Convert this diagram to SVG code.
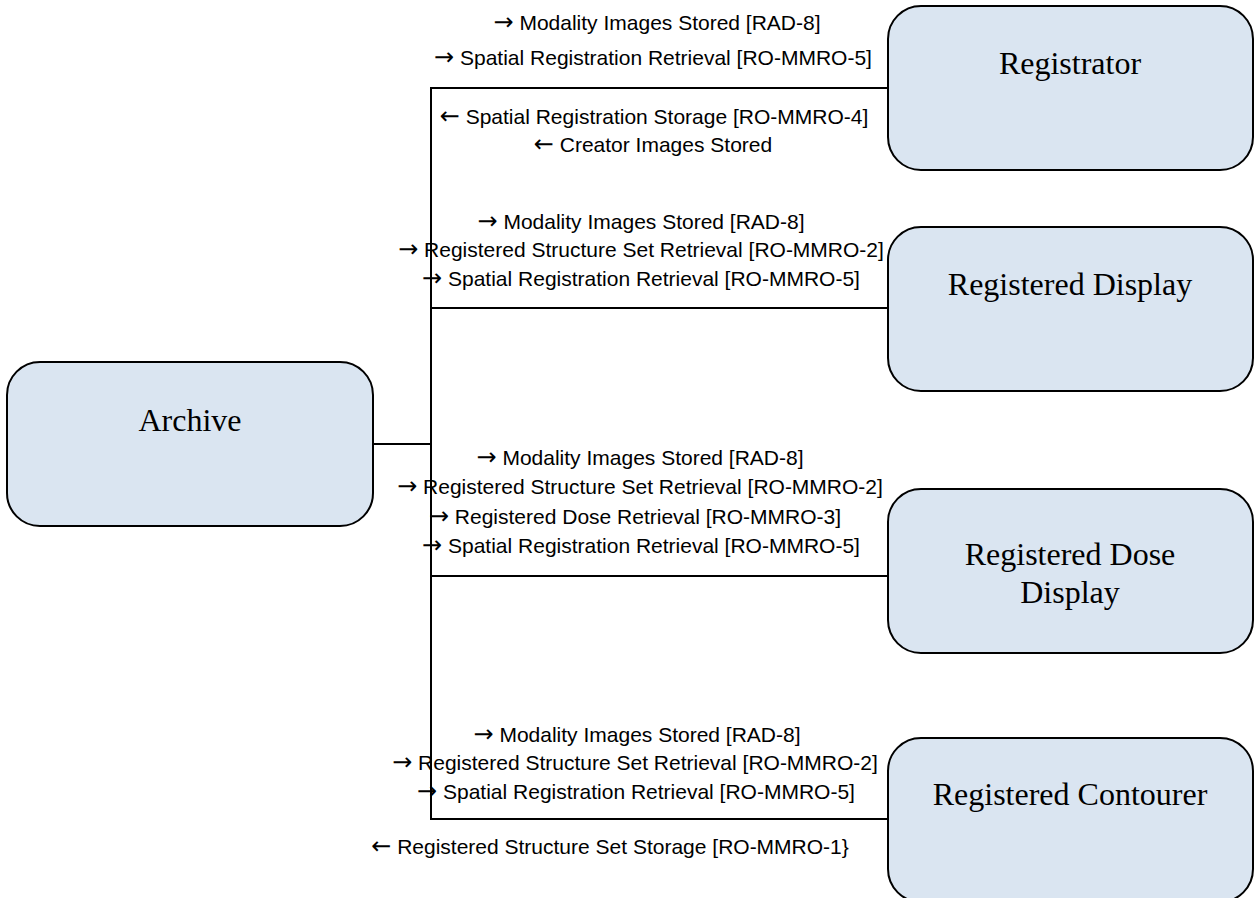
<svg xmlns="http://www.w3.org/2000/svg" width="1257" height="898" viewBox="0 0 1257 898">
<style>
.box{fill:#dae5f1;stroke:#000;stroke-width:2}
.nt{font-family:"Liberation Serif","Times New Roman",serif;font-size:32px;fill:#000;text-anchor:middle}
.lb{font-family:"Liberation Sans",Arial,sans-serif;font-size:21px;fill:#000;text-anchor:middle}
.ar{font-family:"DejaVu Sans",sans-serif;font-size:24px}
.ln{stroke:#000;stroke-width:2;fill:none}
</style>
<rect width="1257" height="898" fill="#fff"/>
<g id="connectors">
<line class="ln" x1="373" y1="444" x2="431" y2="444"/>
<line class="ln" x1="431" y1="87" x2="431" y2="820"/>
<line class="ln" x1="430" y1="88" x2="888" y2="88"/>
<line class="ln" x1="430" y1="308" x2="888" y2="308"/>
<line class="ln" x1="430" y1="576" x2="888" y2="576"/>
<line class="ln" x1="430" y1="819" x2="888" y2="819"/>
<text class="lb" x="657" y="30"><tspan class="ar">→</tspan> Modality Images Stored [RAD-8]</text>
<text class="lb" x="653" y="65"><tspan class="ar">→</tspan> Spatial Registration Retrieval [RO-MMRO-5]</text>
<text class="lb" x="654" y="124"><tspan class="ar">←</tspan> Spatial Registration Storage [RO-MMRO-4]</text>
<text class="lb" x="653" y="152"><tspan class="ar">←</tspan> Creator Images Stored</text>
<text class="lb" x="641" y="229"><tspan class="ar">→</tspan> Modality Images Stored [RAD-8]</text>
<text class="lb" x="641" y="257"><tspan class="ar">→</tspan> Registered Structure Set Retrieval [RO-MMRO-2]</text>
<text class="lb" x="641" y="286"><tspan class="ar">→</tspan> Spatial Registration Retrieval [RO-MMRO-5]</text>
<text class="lb" x="640" y="465"><tspan class="ar">→</tspan> Modality Images Stored [RAD-8]</text>
<text class="lb" x="640" y="494"><tspan class="ar">→</tspan> Registered Structure Set Retrieval [RO-MMRO-2]</text>
<text class="lb" x="635" y="524"><tspan class="ar">→</tspan> Registered Dose Retrieval [RO-MMRO-3]</text>
<text class="lb" x="641" y="553"><tspan class="ar">→</tspan> Spatial Registration Retrieval [RO-MMRO-5]</text>
<text class="lb" x="637" y="742"><tspan class="ar">→</tspan> Modality Images Stored [RAD-8]</text>
<text class="lb" x="635" y="770"><tspan class="ar">→</tspan> Registered Structure Set Retrieval [RO-MMRO-2]</text>
<text class="lb" x="636" y="799"><tspan class="ar">→</tspan> Spatial Registration Retrieval [RO-MMRO-5]</text>
<text class="lb" x="610" y="854"><tspan class="ar">←</tspan> Registered Structure Set Storage [RO-MMRO-1}</text>
</g>
<g id="archive">
<rect class="box" x="7" y="362" width="366" height="164" rx="33"/>
<text class="nt" x="190" y="431">Archive</text>
</g>
<g id="registrator">
<rect class="box" x="888" y="6" width="365" height="164" rx="33"/>
<text class="nt" x="1070" y="74">Registrator</text>
</g>
<g id="registered-display">
<rect class="box" x="888" y="227" width="365" height="164" rx="33"/>
<text class="nt" x="1070" y="295">Registered Display</text>
</g>
<g id="registered-dose-display">
<rect class="box" x="888" y="489" width="365" height="164" rx="33"/>
<text class="nt" x="1070" y="565">Registered Dose</text>
<text class="nt" x="1070" y="603">Display</text>
</g>
<g id="registered-contourer">
<rect class="box" x="888" y="738" width="365" height="164" rx="33"/>
<text class="nt" x="1070" y="805">Registered Contourer</text>
</g>
</svg>
